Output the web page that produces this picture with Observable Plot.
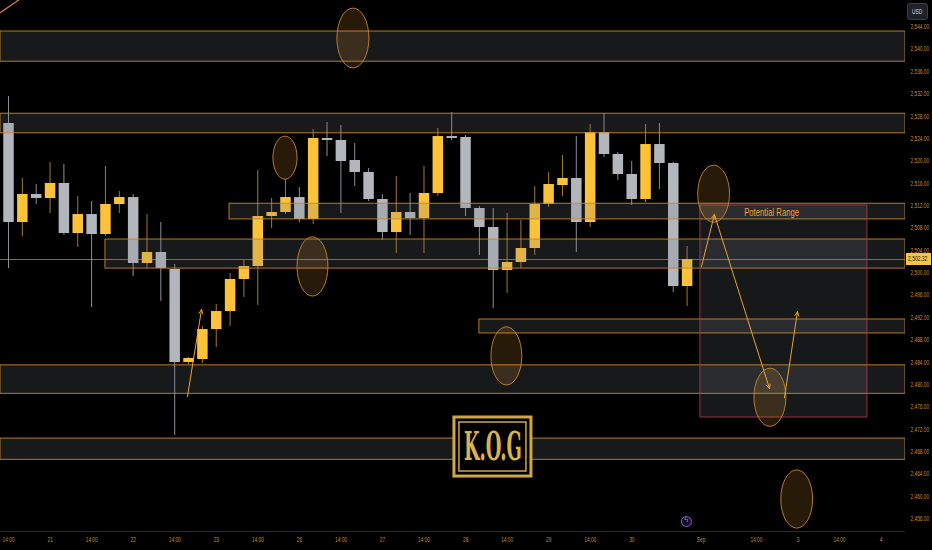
<!DOCTYPE html>
<html><head><meta charset="utf-8">
<script src="https://cdn.jsdelivr.net/npm/d3@7"></script>
<script src="https://cdn.jsdelivr.net/npm/@observablehq/plot@0.6"></script>
<style>
html,body{margin:0;padding:0;background:#000;}
#wrap{position:relative;width:932px;height:550px;overflow:hidden;background:#000;}
.ovl{position:absolute;box-sizing:border-box;font-family:"Liberation Sans",Arial,sans-serif;white-space:nowrap;overflow:hidden;}
.ovl span{display:block;transform-origin:left center;}
</style></head><body><div id="wrap"></div>
<script>
// ---- candle data (4H, index = bar number) ----
const opens  = [2526.65,2508.94,2513.95,2513.24,2515.92,2506.98,2510.37,2506.80,2512.16,2513.41,2501.61,2503.58,2500.54,2483.90,2484.44,2489.80,2493.02,2498.75,2501.07,2510.02,2510.73,2513.41,2509.48,2523.97,2523.61,2520.03,2517.89,2513.06,2507.15,2510.73,2509.66,2514.13,2524.32,2524.15,2511.45,2508.05,2500.36,2501.79,2504.29,2512.16,2515.56,2516.81,2508.94,2525.04,2521.11,2517.53,2513.06,2522.89,2519.50,2497.50];
const closes = [2508.94,2513.95,2513.24,2515.92,2506.98,2510.37,2506.80,2512.16,2513.41,2501.61,2503.58,2500.72,2483.90,2484.62,2489.80,2493.02,2498.75,2501.07,2510.02,2510.73,2513.41,2509.48,2523.97,2523.61,2519.85,2517.89,2513.06,2507.15,2510.73,2509.66,2514.13,2524.32,2523.97,2511.45,2508.05,2500.36,2501.79,2504.29,2512.16,2515.74,2516.81,2508.94,2525.04,2521.11,2517.53,2513.06,2522.89,2519.50,2497.50,2502.32];
const highs  = [2531.48,2516.81,2515.74,2519.67,2519.32,2513.59,2512.70,2518.96,2514.49,2513.95,2510.37,2508.94,2501.43,2484.80,2490.34,2494.28,2499.82,2502.15,2518.24,2513.24,2516.63,2515.20,2525.58,2526.83,2526.29,2523.07,2518.60,2513.95,2517.17,2514.13,2519.00,2525.76,2528.62,2524.50,2511.80,2511.45,2510.55,2509.30,2515.38,2517.89,2520.93,2524.32,2526.47,2528.44,2521.46,2519.85,2526.47,2526.65,2519.67,2504.65];
const lows   = [2500.72,2506.44,2512.16,2510.55,2506.62,2504.47,2493.74,2506.44,2510.55,2499.28,2500.72,2494.81,2470.85,2483.54,2483.72,2486.59,2490.34,2495.53,2494.10,2507.87,2510.37,2508.94,2508.59,2520.75,2510.55,2515.38,2512.70,2505.72,2503.40,2506.62,2503.40,2513.59,2523.61,2510.02,2503.04,2493.56,2496.24,2500.72,2503.04,2511.63,2513.59,2503.58,2508.05,2520.57,2516.46,2511.98,2512.52,2514.85,2496.42,2493.92];
const currentPrice = 2502.32;

// ---- axes ----
const xTickPos    = [0,3,6,9,12,15,18,21,24,27,30,33,36,39,42,45,50,54,57,60,63];
const xTickLabels = ["14:00","21","14:00","22","14:00","23","14:00","26","14:00","27","14:00","28","14:00","29","14:00","30","Sep","14:00","3","14:00","4"];
const yTicks = [2456,2460,2464,2468,2472,2476,2480,2484,2488,2492,2496,2500,2504,2508,2512,2516,2520,2524,2528,2532,2536,2540,2544];
const xMin = -0.578, xMax = 64.77, yMin = 2453.68, yMax = 2548.65;

// ---- drawn zones (price bands) ----
const bandTop    = [2543.1,2528.4,2512.3,2505.9,2491.6,2483.4,2470.3];
const bandBottom = [2537.7,2524.9,2509.5,2500.7,2489.1,2478.3,2466.5];
const bandStart  = [xMin,xMin,15.96,7.0,34.0,xMin,xMin];

// ---- ellipses (bar index / price extents) ----
const ellX1 = [23.75,19.13,20.87,34.87,49.8,53.86,55.8];
const ellX2 = [26.06,20.87,23.1,37.1,52.1,56.17,58.1];
const ellY1 = [2547.2,2524.3,2506.3,2490.2,2519.1,2482.8,2464.6];
const ellY2 = [2536.5,2516.6,2495.7,2479.8,2508.9,2472.4,2454.2];

// ---- arrows ----
const arrX1 = [12.92,50.04,50.97,56.03];
const arrY1 = [2477.8,2501.07,2510.37,2477.6];
const arrX2 = [13.94,50.97,54.95,56.97];
const arrY2 = [2493.4,2510.37,2479.24,2493.0];
const edgeLineX = [xMin,1.0];
const edgeLineY = [2546.5,2549.2];

// ---- potential range box ----
const rangeBox = {x1:49.96,x2:62.02,y1:2511.98,y2:2474.07};
const rangeLabel = {x:55.1,y:2510.73,text:"Potential Range"};

// ---- logo ----
const logoOuter = {x1:32.20,x2:37.76,y1:2474.07,y2:2463.51};
const logoInner = {x1:32.56,x2:37.40,y1:2473.17,y2:2464.41};
const logoText  = {x:34.98,y:2468.8,text:"K.O.G"};
const eventIdx = [48.95];

const YEL="#fcc23a", GRY="#b4b6bd";
const candles = opens.map((o,i)=>({i,open:o,close:closes[i],high:highs[i],low:lows[i],up:closes[i]>=o}));
const bands = bandTop.map((t,k)=>({x1:bandStart[k],x2:xMax,y1:t,y2:bandBottom[k]}));
const ells = ellX1.map((v,k)=>({x1:v,x2:ellX2[k],y1:ellY1[k],y2:ellY2[k]}));
const arrows = arrX1.map((v,k)=>({x1:v,y1:arrY1[k],x2:arrX2[k],y2:arrY2[k]}));
const edgeLine = edgeLineX.map((v,k)=>({x:v,y:edgeLineY[k]}));
const labelOf = new Map(xTickPos.map((p,k)=>[p,xTickLabels[k]]));

const chart = Plot.plot({
  width:932,height:550,marginLeft:0,marginRight:27,marginTop:0,marginBottom:19,
  style:{background:"#000",color:"#c98b2e",fontFamily:"Liberation Sans, Arial, sans-serif",fontSize:"8px"},
  x:{domain:[xMin,xMax]},
  y:{domain:[yMin,yMax]},
  marks:[
    Plot.ruleY([yMin],{stroke:"#2a2c33"}),
    Plot.ruleY([currentPrice],{stroke:"#7d7048",strokeWidth:1}),
    Plot.ruleX(candles,{x:"i",y1:"low",y2:"high",stroke:d=>d.up?"#a8782a":"#8c8f97",strokeWidth:1}),
    Plot.ruleX(candles,{x:"i",y1:"open",y2:"close",stroke:d=>d.up?YEL:GRY,strokeWidth:10.5}),
    Plot.rect(bands,{x1:"x1",x2:"x2",y1:"y1",y2:"y2",fill:"#787b86",fillOpacity:0.2,stroke:"#c8862a",strokeOpacity:0.9,strokeWidth:1,clip:true}),
    Plot.rect([rangeBox],{x1:"x1",x2:"x2",y1:"y1",y2:"y2",fill:"#8a8d98",fillOpacity:0.17,stroke:"#b0384e",strokeOpacity:0.85,strokeWidth:1}),
    Plot.text([rangeLabel],{x:"x",y:"y",text:"text",fill:"#f2a12e",fontSize:10}),
    Plot.rect(ells,{x1:"x1",x2:"x2",y1:"y1",y2:"y2",rx:200,ry:200,fill:"#f0a030",fillOpacity:0.16,stroke:"#c8862a",strokeOpacity:0.9,strokeWidth:1,clip:true}),
    Plot.arrow(arrows,{x1:"x1",y1:"y1",x2:"x2",y2:"y2",stroke:"#eea033",strokeWidth:1,headLength:7,headAngle:50}),
    Plot.line(edgeLine,{x:"x",y:"y",stroke:"#e2892a",strokeWidth:1.2,clip:true}),
    Plot.rect([logoOuter],{x1:"x1",x2:"x2",y1:"y1",y2:"y2",fill:"#000",stroke:"#cfa844",strokeWidth:3}),
    Plot.rect([logoInner],{x1:"x1",x2:"x2",y1:"y1",y2:"y2",fill:"#000",stroke:"#cfa844",strokeWidth:1.5}),
    Plot.text([logoText],{x:"x",y:"y",text:"text",fill:"#d9b34c",fontSize:40,fontWeight:"bold",fontFamily:"DejaVu Serif Condensed, Liberation Serif, serif",lineAnchor:"middle"}),
    Plot.dot(eventIdx,{x:d=>d,frameAnchor:"bottom",dy:-10,r:5,stroke:"#8e5fd1",fill:"#120a20",strokeWidth:1}),
    Plot.text(eventIdx,{x:d=>d,frameAnchor:"bottom",dy:-10,text:()=>"ϟ",fill:"#a57be0",fontSize:8}),
    Plot.axisY({anchor:"right",ticks:yTicks,tickSize:0,tickPadding:5,tickFormat:d3.format(",.2f")}),
    Plot.axisX({anchor:"bottom",ticks:xTickPos,tickSize:0,tickPadding:5,tickFormat:d=>labelOf.get(d)})
  ]
});
const wrap = document.getElementById("wrap");
wrap.appendChild(chart);
// horizontally condense texts (the reference is a horizontally squeezed screenshot)
chart.querySelectorAll("text").forEach(t=>{
  const s = t.textContent;
  if (s==="ϟ") return;
  const len = t.getComputedTextLength();
  const k = s==="Potential Range" ? 55/len : s==="K.O.G" ? 58/len : 0.6;
  const bb = t.getBBox();
  const anchor = getComputedStyle(t).textAnchor;
  const ax = anchor==="middle" ? bb.x+bb.width/2 : anchor==="end" ? bb.x+bb.width : bb.x;
  const tr = t.getAttribute("transform")||"";
  t.setAttribute("transform", `${tr} translate(${ax},0) scale(${k},1) translate(${-ax},0)`);
});
// current price tag on the price scale
const yPx = chart.scale("y").apply(currentPrice);
const tag = document.createElement("div");
tag.className="ovl";
Object.assign(tag.style,{left:"906px",top:(yPx-6)+"px",width:"25px",height:"12px",background:"#f7c443",color:"#151515",fontSize:"8px",lineHeight:"12px",paddingLeft:"2px"});
tag.innerHTML = `<span style="transform:scaleX(0.62)">${d3.format(",.2f")(currentPrice)}</span>`;
wrap.appendChild(tag);
// currency box
const usd = document.createElement("div");
usd.className="ovl";
Object.assign(usd.style,{left:"907px",top:"3px",width:"21px",height:"17px",background:"#1e2129",border:"1px solid #3a3e48",borderRadius:"3px",color:"#d8d9dc",fontSize:"7px",lineHeight:"15px",paddingLeft:"4px"});
usd.innerHTML = `<span style="transform:scaleX(0.7)">USD</span>`;
wrap.appendChild(usd);
</script></body></html>
